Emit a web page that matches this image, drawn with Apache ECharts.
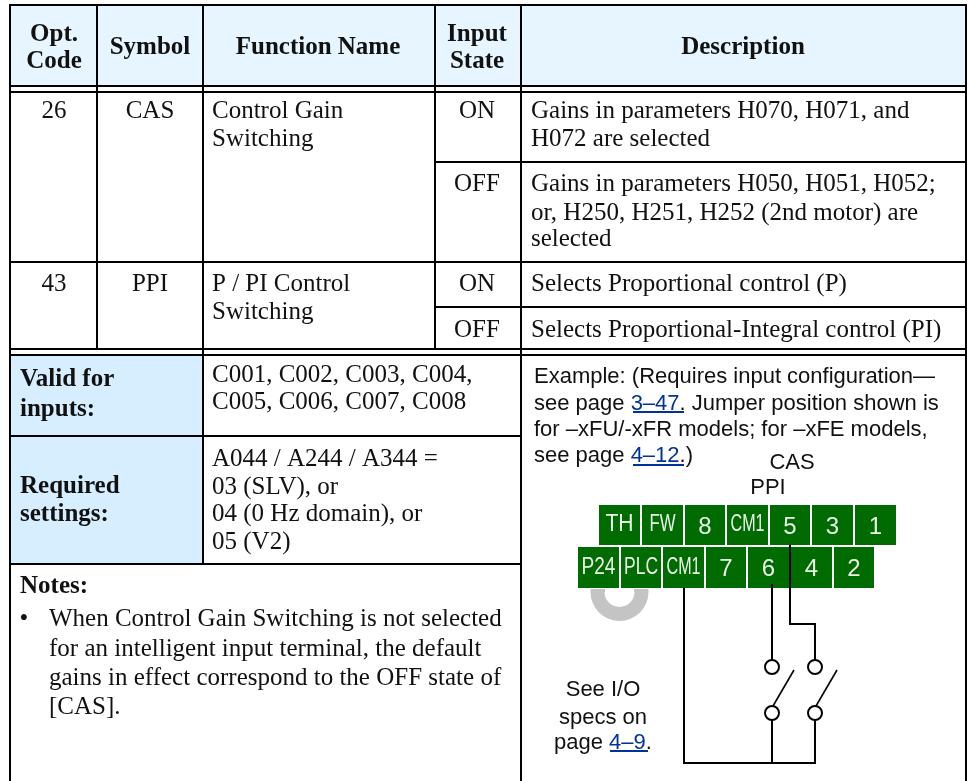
<!DOCTYPE html>
<html><head><meta charset="utf-8">
<style>html,body{margin:0;padding:0;background:#fff}#c{width:968px;height:781px}</style>
<script src="https://cdn.jsdelivr.net/npm/echarts@6/dist/echarts.min.js"></script>
</head><body><div id="c"></div>
<script>
var headerLabels = ['Opt.', 'Code', 'Symbol', 'Function Name', 'Input', 'State', 'Description'];
var optCodes = ['26', '43'];
var symbols = ['CAS', 'PPI'];
var functionNames = ['Control Gain', 'Switching', 'P / PI Control', 'Switching'];
var inputStates = ['ON', 'OFF', 'ON', 'OFF'];
var descriptions = [
  'Gains in parameters H070, H071, and', 'H072 are selected',
  'Gains in parameters H050, H051, H052;', 'or, H250, H251, H252 (2nd motor) are', 'selected',
  'Selects Proportional control (P)',
  'Selects Proportional-Integral control (PI)'
];
var sideLabels = ['Valid for', 'inputs:', 'Required', 'settings:', 'Notes:'];
var validInputs = ['C001, C002, C003, C004,', 'C005, C006, C007, C008'];
var requiredSettings = ['A044 / A244 / A344 =', '03 (SLV), or', '04 (0 Hz domain), or', '05 (V2)'];
var noteLines = ['When Control Gain Switching is not selected', 'for an intelligent input terminal, the default', 'gains in effect correspond to the OFF state of', '[CAS].'];
var exampleLines = ['Example: (Requires input configuration—', '{t|see page }{l|3–47}{t|. Jumper position shown is}', 'for –xFU/-xFR models; for –xFE models,', '{t|see page }{l|4–12}{t|.)}'];
var seeLines = ['See I/O', 'specs on', '{t|page }{l|4–9}{t|.}'];
var wireLabels = ['CAS', 'PPI'];
var topTerminals = ['TH', 'FW', '8', 'CM1', '5', '3', '1'];
var bottomTerminals = ['P24', 'PLC', 'CM1', '7', '6', '4', '2'];

var SERIF = '"Liberation Serif"', SANS = '"Liberation Sans"';
var BLACK = '#000', INK = '#111', LINK = '#003399', GREEN = '#006B00';
var narrow = {TH:0.92, FW:0.73, CM1:0.7, P24:0.83, PLC:0.76};
var els = [];
function rect(x, y, w, h, fill) { els.push({type:'rect', silent:true, shape:{x:x,y:y,width:w,height:h}, style:{fill:fill}}); }
function hline(y, x0, x1) { rect(x0, y-1, x1-x0, 2, BLACK); }
function vline(x, y0, y1) { rect(x-1, y0, 2, y1-y0, BLACK); }
function text(s, x, y, font, align, fill, sx) {
  els.push({type:'text', silent:true, x:x, y:y, scaleX:sx||1,
    style:{text:s, x:0, y:0, font:font, align:align||'left', verticalAlign:'middle', fill:fill||INK}});
}
function rich(s, x, y, size, align) {
  var f = {fontFamily:SANS, fontSize:size, fill:INK};
  var l = {fontFamily:SANS, fontSize:size, fill:LINK};
  els.push({type:'text', silent:true, x:x, y:y,
    style:{text:s, x:0, y:0, align:align||'left', verticalAlign:'middle', rich:{t:f, l:l}}});
}
function seg(pts, w) {
  els.push({type:'polyline', silent:true, shape:{points:pts}, style:{stroke:BLACK, lineWidth:w||2, fill:'none', lineCap:'butt'}});
}
function circ(x, y) {
  els.push({type:'circle', silent:true, shape:{cx:x,cy:y,r:7}, style:{fill:'#fff', stroke:BLACK, lineWidth:2}});
}

rect(10, 5, 956, 81, '#E6F5FF');
rect(10, 355, 193, 209, '#D6EEFF');

hline(5, 9, 966); hline(86, 9, 966); hline(92, 9, 966);
hline(162, 435, 966); hline(262, 9, 966); hline(307, 435, 966);
hline(349, 9, 966); hline(355, 9, 966); hline(436, 9, 521); hline(564, 9, 521);
vline(10, 4, 781); vline(966, 4, 781);
vline(97, 5, 349); vline(435, 5, 349); vline(203, 5, 564); vline(521, 5, 781);

var HB = 'bold 25px ' + SERIF, B = 'bold 25px ' + SERIF, R = '25px ' + SERIF, S = '22px ' + SANS;
[[54,35],[54,62],[150,48],[318,48],[477,35],[477,62],[743,48]].forEach(function (p, i) { text(headerLabels[i], p[0], p[1], HB, 'center'); });

text(optCodes[0], 54, 111, R, 'center'); text(symbols[0], 150, 111, R, 'center');
text(optCodes[1], 54, 284, R, 'center'); text(symbols[1], 150, 284, R, 'center');
[111, 139, 284, 312].forEach(function (y, i) { text(functionNames[i], 212, y, R); });
[111, 184, 284, 330].forEach(function (y, i) { text(inputStates[i], 477, y, R, 'center'); });
[111, 139, 184, 213, 239, 284, 330].forEach(function (y, i) { text(descriptions[i], 531, y, R); });

[380, 410, 487, 515, 587].forEach(function (y, i) { text(sideLabels[i], 20, y, B); });
[375, 402].forEach(function (y, i) { text(validInputs[i], 212, y, R); });
[459, 487, 514, 542].forEach(function (y, i) { text(requiredSettings[i], 212, y, R); });
text('•', 24, 619, R, 'center');
[619, 649, 678, 707].forEach(function (y, i) { text(noteLines[i], 49, y, R); });

text(exampleLines[0], 534, 377, S);
rich(exampleLines[1], 534, 404, 22);
text(exampleLines[2], 534, 430, S);
rich(exampleLines[3], 534, 456, 22);
rect(633, 411, 51, 2, LINK); rect(633, 464, 51, 2, LINK);
text(wireLabels[0], 792, 463, S, 'center');
text(wireLabels[1], 768, 488, S, 'center');
text(seeLines[0], 603, 690, S, 'center');
text(seeLines[1], 603, 718, S, 'center');
rich(seeLines[2], 603, 743, 22, 'center');
rect(610, 750, 38, 2, LINK);

els.push({type:'sector', silent:true, shape:{cx:619.5, cy:592, r0:15, r:29, startAngle:0, endAngle:Math.PI, clockwise:true}, style:{fill:'#C4C4C4'}});
rect(590.5, 589, 14.5, 3, '#C4C4C4'); rect(634, 589, 14.5, 3, '#C4C4C4');

var topX = [[599,640],[642,683],[685,725],[727,768],[770,810],[812,853],[855,896]];
var botX = [[578,619],[621,661],[663,704],[706,746],[748,789],[791,832],[834,874]];
function term(list, labels, y0, y1) {
  list.forEach(function (p, i) {
    rect(p[0], y0, p[1]-p[0], y1-y0, GREEN);
    var lab = labels[i], cx = (p[0]+p[1])/2, cy = (y0+y1)/2;
    if (lab.length > 1) text(lab, cx, cy, '23px ' + SANS, 'center', '#EAF5EA', narrow[lab]);
    else text(lab, cx, cy+2, '24px ' + SANS, 'center', '#EAF5EA');
  });
}
term(topX, topTerminals, 505, 545);
term(botX, bottomTerminals, 547, 588);

seg([[684,588],[684,763],[816,763]]);
seg([[772,584],[772,660]]);
seg([[790,545],[790,625]]);
seg([[789,624],[815,624],[815,660]]);
seg([[772,720],[772,763]]);
seg([[815,720],[815,763]]);
seg([[773,706],[794,670]], 1.6);
seg([[816,706],[837,670]], 1.6);
circ(772,667); circ(815,667); circ(772,713); circ(815,713);

var chart = echarts.init(document.getElementById('c'), null, {renderer:'canvas', width:968, height:781});
chart.setOption({animation:false, backgroundColor:'#fff', graphic:{elements:els}});
</script></body></html>
